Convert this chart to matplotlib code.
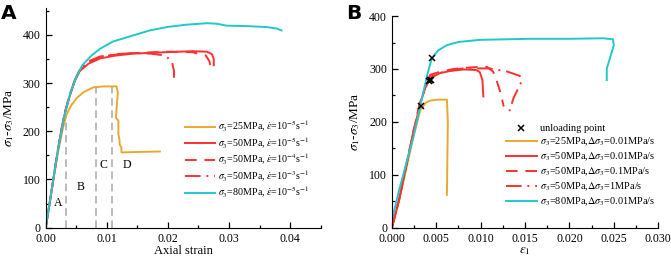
import matplotlib
matplotlib.use("Agg")
import matplotlib.pyplot as plt
from matplotlib.ticker import MultipleLocator, FormatStrFormatter

plt.rcParams['font.family'] = ['Liberation Serif', 'DejaVu Serif']
plt.rcParams['mathtext.fontset'] = 'stix'

ORANGE = '#EBA830'
RED = '#FF3030'
CYAN = '#20C8CC'

# ---- panel A: axial strain vs deviatoric stress ----
a_s25_x = [0, 0.0005, 0.0012, 0.002, 0.0028, 0.0034, 0.0042, 0.0051, 0.0062, 0.0078, 0.0095, 0.0116, 0.0118, 0.0115, 0.0119, 0.0119, 0.0121, 0.0121, 0.0124, 0.0124, 0.0150, 0.0187]
a_s25_y = [0, 40, 95, 155, 205, 234, 254, 269, 281, 291, 293, 293, 280, 228, 222, 195, 180, 173, 166, 156, 157, 158]
a_s50_x = [0, 0.0005, 0.0012, 0.002, 0.003, 0.004, 0.0048, 0.0056, 0.007, 0.0089, 0.0115, 0.0144, 0.0198, 0.0240, 0.0264, 0.0272, 0.0275, 0.0275]
a_s50_y = [0, 38, 95, 160, 230, 275, 305, 325, 340, 351, 357, 361, 364, 366, 365, 360, 350, 337]
a_s50b_x = [0, 0.0005, 0.0012, 0.002, 0.003, 0.004, 0.0048, 0.0056, 0.007, 0.0089, 0.0115, 0.0144, 0.0198, 0.0240, 0.0262, 0.0268, 0.0270]
a_s50b_y = [0, 38, 96, 162, 232, 278, 307, 327, 343, 354, 359, 362, 365, 364, 357, 345, 330]
a_s50c_x = [0, 0.0005, 0.0012, 0.002, 0.003, 0.004, 0.0048, 0.0056, 0.007, 0.0089, 0.0115, 0.0144, 0.0171, 0.0190, 0.0200, 0.0207, 0.0210, 0.0210]
a_s50c_y = [0, 38, 96, 162, 232, 278, 307, 328, 345, 355, 360, 362, 361, 358, 352, 342, 325, 311]
a_s80_x = [0, 0.0005, 0.0012, 0.002, 0.003, 0.0040, 0.0050, 0.0060, 0.0075, 0.0089, 0.0110, 0.0144, 0.0170, 0.0198, 0.0230, 0.0264, 0.0280, 0.0296, 0.0330, 0.0362, 0.0378, 0.0386]
a_s80_y = [0, 38, 95, 160, 228, 278, 312, 337, 357, 371, 386, 399, 409, 416, 421, 424, 423, 419, 418, 416, 413, 409]

a_stage_x = [0.0034, 0.0082, 0.0108]
a_stage_top = [234, 293, 293]
a_stage_labels = ['A', 'B', 'C', 'D']
a_label_x = [0.0021, 0.0058, 0.0094, 0.0133]
a_label_y = [51, 85, 131, 131]

# ---- panel B: epsilon_1 vs deviatoric stress ----
b_s25_x = [0, 0.0008, 0.0016, 0.0024, 0.0032, 0.0038, 0.0043, 0.0052, 0.0062, 0.0063, 0.0062]
b_s25_y = [0, 50, 110, 170, 222, 236, 240, 242, 242, 200, 62]
b_s50_x = [0, 0.0008, 0.0016, 0.0024, 0.0032, 0.0039, 0.0046, 0.0054, 0.0065, 0.0081, 0.0095, 0.0099, 0.0102, 0.0103]
b_s50_y = [0, 52, 115, 178, 235, 272, 285, 292, 296, 299, 298, 294, 279, 248]
b_s50b_x = [0, 0.0008, 0.0016, 0.0024, 0.0032, 0.0043, 0.0055, 0.0070, 0.0081, 0.0100, 0.0107, 0.0114, 0.0118, 0.0122, 0.0126]
b_s50b_y = [0, 52, 116, 180, 238, 289, 295, 300, 302, 304, 304, 295, 278, 257, 229]
b_s50c_x = [0, 0.0008, 0.0016, 0.0024, 0.0032, 0.0043, 0.0055, 0.0070, 0.0081, 0.0110, 0.0130, 0.0144, 0.0146, 0.0142, 0.0137, 0.0131]
b_s50c_y = [0, 52, 116, 180, 238, 285, 293, 299, 301, 301, 295, 287, 276, 262, 245, 213]
b_s80_x = [0, 0.0008, 0.0016, 0.0024, 0.0032, 0.0040, 0.0045, 0.0052, 0.0062, 0.0075, 0.0099, 0.0156, 0.0200, 0.0238, 0.0249, 0.0250, 0.0246, 0.0242, 0.0242]
b_s80_y = [14, 70, 120, 170, 230, 290, 320, 335, 345, 351, 355, 357, 357, 358, 356, 345, 323, 300, 279]
b_unload_x = [0.0033, 0.0042, 0.0044, 0.0043, 0.0045]
b_unload_y = [230, 277, 279, 279, 321]

fig = plt.figure(figsize=(6.71, 2.59), dpi=100)
axA = fig.add_axes([0.068, 0.121, 0.410, 0.847])
axB = fig.add_axes([0.584, 0.121, 0.397, 0.817])

lw = 1.4
a_lab = [r'$\sigma_3$=25MPa, $\dot{\varepsilon}$=10$^{-5}$s$^{-1}$',
         r'$\sigma_3$=50MPa, $\dot{\varepsilon}$=10$^{-5}$s$^{-1}$',
         r'$\sigma_3$=50MPa, $\dot{\varepsilon}$=10$^{-4}$s$^{-1}$',
         r'$\sigma_3$=50MPa, $\dot{\varepsilon}$=10$^{-3}$s$^{-1}$',
         r'$\sigma_3$=80MPa, $\dot{\varepsilon}$=10$^{-5}$s$^{-1}$']
for x, top in zip(a_stage_x, a_stage_top):
    axA.plot([x, x], [0, top], color='#A8A8A8', ls=(0, (5, 3)), lw=1.1)
axA.plot(a_s25_x, a_s25_y, color=ORANGE, lw=lw, label=a_lab[0])
axA.plot(a_s50_x, a_s50_y, color=RED, lw=lw, label=a_lab[1])
axA.plot(a_s50b_x, a_s50b_y, color=RED, lw=lw, ls=(0, (6, 4)), label=a_lab[2])
axA.plot(a_s50c_x, a_s50c_y, color=RED, lw=lw, ls=(0, (8, 3, 1, 3)), label=a_lab[3])
axA.plot(a_s80_x, a_s80_y, color=CYAN, lw=lw, label=a_lab[4])
for t, x, y in zip(a_stage_labels, a_label_x, a_label_y):
    axA.text(x, y, t, fontsize=8.5, ha='center', va='center')
axA.set_xlim(0, 0.045)
axA.set_ylim(0, 455)
axA.set_xticks([0, 0.01, 0.02, 0.03, 0.04])
axA.set_xticklabels(['0.00', '0.01', '0.02', '0.03', '0.04'])
axA.xaxis.set_minor_locator(MultipleLocator(0.005))
axA.yaxis.set_major_locator(MultipleLocator(100))
axA.yaxis.set_minor_locator(MultipleLocator(50))
axA.set_xlabel('Axial strain', fontsize=9, labelpad=0)
axA.set_ylabel(r'$\sigma_1$-$\sigma_3$/MPa', fontsize=9.5, labelpad=5)
axA.legend(loc='upper left', bbox_to_anchor=(185 / 671, 1 - 119 / 259), bbox_transform=fig.transFigure,
           borderaxespad=0, borderpad=0, frameon=False, fontsize=7.2,
           handlelength=3.0, labelspacing=0.15, handletextpad=0.3)
fig.text(0.002, 0.985, 'A', fontsize=14.5, fontweight='bold', family='DejaVu Sans', va='top')

b_lab = [r'$\sigma_3$=25MPa,$\Delta\sigma_3$=0.01MPa/s',
         r'$\sigma_3$=50MPa,$\Delta\sigma_3$=0.01MPa/s',
         r'$\sigma_3$=50MPa,$\Delta\sigma_3$=0.1MPa/s',
         r'$\sigma_3$=50MPa,$\Delta\sigma_3$=1MPa/s',
         r'$\sigma_3$=80MPa,$\Delta\sigma_3$=0.01MPa/s']
axB.plot(b_s25_x, b_s25_y, color=ORANGE, lw=lw, label=b_lab[0])
axB.plot(b_s50_x, b_s50_y, color=RED, lw=lw, label=b_lab[1])
axB.plot(b_s50b_x, b_s50b_y, color=RED, lw=lw, ls=(0, (6, 4)), label=b_lab[2])
axB.plot(b_s50c_x, b_s50c_y, color=RED, lw=lw, ls=(0, (8, 3, 1, 3)), label=b_lab[3])
axB.plot(b_s80_x, b_s80_y, color=CYAN, lw=lw, label=b_lab[4])
axB.plot(b_unload_x, b_unload_y, 'x', color='black', ms=5, mew=1.1, label='unloading point')
h, l = axB.get_legend_handles_labels()
axB.legend(h[-1:] + h[:-1], l[-1:] + l[:-1], loc='upper left',
           bbox_to_anchor=(506 / 671, 1 - 124 / 259), bbox_transform=fig.transFigure,
           borderaxespad=0, borderpad=0, frameon=False, fontsize=7.4,
           handlelength=3.0, labelspacing=0.25, handletextpad=0.3)
axB.set_xlim(0, 0.03)
axB.set_ylim(0, 400)
axB.xaxis.set_major_locator(MultipleLocator(0.005))
axB.xaxis.set_minor_locator(MultipleLocator(0.0025))
axB.yaxis.set_major_locator(MultipleLocator(100))
axB.yaxis.set_minor_locator(MultipleLocator(50))
axB.xaxis.set_major_formatter(FormatStrFormatter('%.3f'))
axB.set_xlabel(r'$\varepsilon_1$', fontsize=9.5, labelpad=0)
axB.set_ylabel(r'$\sigma_1$-$\sigma_3$/MPa', fontsize=9.5, labelpad=5)
fig.text(0.516, 0.985, 'B', fontsize=14.5, fontweight='bold', family='DejaVu Sans', va='top')

for ax in (axA, axB):
    ax.spines['top'].set_visible(False)
    ax.spines['right'].set_visible(False)
    ax.tick_params(which='both', direction='in', labelsize=8.5, width=0.9)
    ax.tick_params(which='major', length=4)
    ax.tick_params(which='minor', length=2)

plt.savefig('out.png', dpi=100)
